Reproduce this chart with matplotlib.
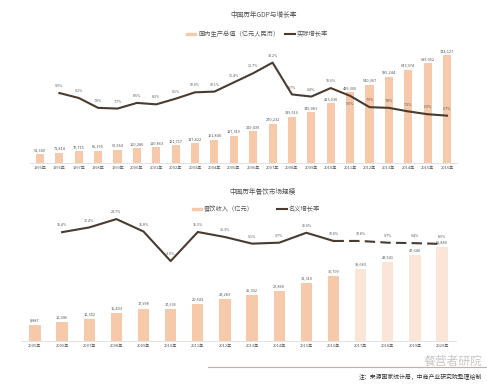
import numpy as np
import matplotlib.pyplot as plt

plt.rcParams['font.family'] = ['Noto Sans CJK SC', 'DejaVu Sans']

# ---- data ----
gdp_years = [f"{y}年" for y in range(1995, 2017)]
gdp_values = [61340, 71814, 79715, 85195, 90564, 100280, 110863, 121717, 137422,
              161840, 187319, 219439, 270232, 319516, 349081, 413030, 489300,
              540367, 595244, 643974, 689052, 744127]
gdp_growth = [None, 9.9, 9.2, 7.8, 7.7, 8.5, 8.3, 9.1, 10.0, 10.1, 11.4, 12.7,
              14.2, 9.7, 9.4, 10.6, 9.5, 7.9, 7.8, 7.3, 6.9, 6.7]
gdp_label_below = [2011]

food_years = [f"{y}年" for y in range(2005, 2021)]
food_values = [8887, 10346, 12352, 15403, 17998, 17636, 20543, 23283, 25392,
               27860, 32310, 35799, 39683, 43541, 47640, 51880]
food_growth = [None, 16.4, 19.4, 24.7, 16.8, -2.0, 16.5, 13.3, 9.1, 9.7, 16.0,
               10.8, 10.8, 9.7, 9.4, 8.9]
n_actual = 12  # 2005-2016 actual, 2017-2020 forecast

BAR = "#F6C9AA"
BAR_LIGHT = "#FBE5D6"
LINE = "#4A3B30"
TXT = "#555555"

W, H = 487, 392
fig = plt.figure(figsize=(W / 100, H / 100), dpi=100)
fig.patch.set_facecolor("white")


def px_axes(l, t, r, b):
    return fig.add_axes([l / W, 1 - b / H, (r - l) / W, (b - t) / H])


def style_axis(ax):
    for s in ["top", "right", "left"]:
        ax.spines[s].set_visible(False)
    ax.spines["bottom"].set_color("#dddddd")
    ax.spines["bottom"].set_linewidth(0.6)
    ax.set_yticks([])
    ax.tick_params(axis="x", length=0, pad=2.5, labelsize=2.9, labelcolor=TXT)
    ax.patch.set_alpha(0)


def legend_row(y, x_patch, label1, x_line, label2):
    yy = 1 - y / H
    fig.patches.append(plt.Rectangle((x_patch / W, yy - 1.2 / H), 10 / W, 2.4 / H,
                                     color=BAR, transform=fig.transFigure, figure=fig))
    fig.text((x_patch + 12) / W, yy, label1, fontsize=4.5, color=TXT, va="center")
    fig.lines.append(plt.Line2D([x_line / W, (x_line + 10) / W], [yy, yy],
                                color=LINE, lw=1.5, transform=fig.transFigure, figure=fig))
    fig.text((x_line + 12) / W, yy, label2, fontsize=4.5, color=TXT, va="center")


# ---- top chart: GDP ----
fig.text(264 / W, 1 - 15 / H, "中国历年GDP与增长率", fontsize=4.8, color=TXT,
         ha="center", va="center")
legend_row(34, 186, "国内生产总值（亿元人民币）", 285, "实际增长率")

ax1 = px_axes(30.3, 40, 456.7, 163)
x1 = np.arange(len(gdp_years))
ax1.bar(x1, gdp_values, width=0.42, color=BAR)
for i, v in enumerate(gdp_values):
    ax1.annotate(f"{v:,}", (i, v), xytext=(0, 1.5), textcoords="offset points",
                 ha="center", va="bottom", fontsize=2.8, color=TXT)
ax1.set_xlim(-0.5, len(gdp_years) - 0.5)
ax1.set_ylim(0, 847500)
ax1.set_xticks(x1)
ax1.set_xticklabels(gdp_years)
style_axis(ax1)

ax1b = ax1.twinx()
gx = [i for i, g in enumerate(gdp_growth) if g is not None]
gy = [g for g in gdp_growth if g is not None]
ax1b.plot(gx, gy, color=LINE, lw=1.5)
for i, g in zip(gx, gy):
    if 1995 + i in gdp_label_below:
        ax1b.annotate(f"{g}%", (i, g), xytext=(0, -4.5), textcoords="offset points",
                      ha="center", va="top", fontsize=2.6, color=TXT)
    else:
        ax1b.annotate(f"{g}%", (i, g), xytext=(0, 3.5), textcoords="offset points",
                      ha="center", va="bottom", fontsize=2.6, color=TXT)
ax1b.set_ylim(0, 17.4)
ax1b.axis("off")

# ---- bottom chart: catering ----
fig.text(262 / W, 1 - 192 / H, "中国历年餐饮市场规模", fontsize=4.8, color=TXT,
         ha="center", va="center")
legend_row(209, 192, "餐饮收入（亿元）", 277, "名义增长率")

ax2 = px_axes(21.4, 215, 455.6, 341)
x2 = np.arange(len(food_years))
colors = [BAR if i < n_actual else BAR_LIGHT for i in x2]
ax2.bar(x2, food_values, width=0.42, color=colors)
for i, v in enumerate(food_values):
    ax2.annotate(f"{v:,}", (i, v), xytext=(0, 2), textcoords="offset points",
                 ha="center", va="bottom", fontsize=2.8, color=TXT)
ax2.set_xlim(-0.5, len(food_years) - 0.5)
ax2.set_ylim(0, 69800)
ax2.set_xticks(x2)
ax2.set_xticklabels(food_years)
style_axis(ax2)

ax2b = ax2.twinx()
fx = [i for i, g in enumerate(food_growth) if g is not None]
fy = [g for g in food_growth if g is not None]
solid = [k for k, i in enumerate(fx) if i <= n_actual - 1]
dashed = [k for k, i in enumerate(fx) if i >= n_actual - 1]
ax2b.plot([fx[k] for k in solid], [fy[k] for k in solid], color=LINE, lw=1.5)
ax2b.plot([fx[k] for k in dashed], [fy[k] for k in dashed], color=LINE, lw=1.5,
          dashes=(5, 2.5))
for i, g in zip(fx, fy):
    ax2b.annotate(f"{g}%", (i, g), xytext=(0, 3.5), textcoords="offset points",
                  ha="center", va="bottom", fontsize=2.6, color=TXT)
ax2b.set_ylim(-52.8, 27.3)
ax2b.axis("off")

# ---- footnote ----
fig.lines.append(plt.Line2D([208 / W, 1.0], [1 - 367 / H, 1 - 367 / H], color="#b9b2aa",
                            lw=0.8, transform=fig.transFigure, figure=fig))
fig.text(482 / W, 1 - 376.5 / H, "注：来源国家统计局，中商产业研究院整理绘制", fontsize=4.2,
         color="#333333", ha="right", va="center")
fig.text(482 / W, 1 - 361 / H, "餐营者研院", fontsize=8.5, color="#9a9a9a", alpha=0.55,
         ha="right", va="center")

fig.savefig("out.png", dpi=100)
